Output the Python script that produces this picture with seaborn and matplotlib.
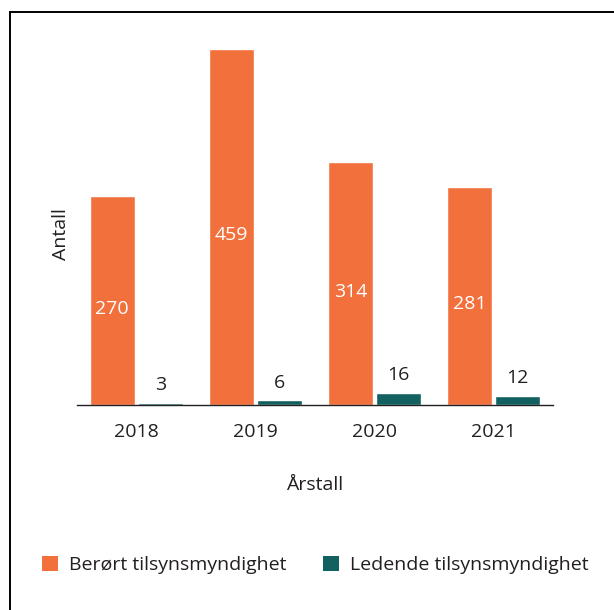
import matplotlib
matplotlib.use("Agg")
import matplotlib.pyplot as plt
import seaborn as sns
import pandas as pd
from matplotlib.patches import Rectangle, Patch

years = ["2018", "2019", "2020", "2021"]
berort = [270, 459, 314, 281]
ledende = [3, 6, 16, 12]
series_names = ["Berørt tilsynsmyndighet", "Ledende tilsynsmyndighet"]
colors = ["#F1703C", "#12605F"]

df = pd.DataFrame({
    "year": years * 2,
    "value": berort + ledende,
    "series": [series_names[0]] * 4 + [series_names[1]] * 4,
})

sns.set_theme(style="white")
plt.rcParams["font.family"] = ["Open Sans", "DejaVu Sans"]
text_color = "#231F20"
fs = 14

fig = plt.figure(figsize=(6.14, 6.10), dpi=100)
ax = fig.add_axes([77 / 614, 205 / 610, 476 / 614, 372 / 610])

sns.barplot(data=df, x="year", y="value", hue="series", palette=colors,
            width=0.815, gap=0.07, ax=ax, legend=False, saturation=1)

ax.set_ylim(0, 480)
ax.set_xlim(-0.5, 3.5)
for s in ["top", "right", "left"]:
    ax.spines[s].set_visible(False)
ax.spines["bottom"].set_color(text_color)
ax.spines["bottom"].set_linewidth(1.0)
ax.set_yticks([])
ax.tick_params(axis="x", length=0, pad=13, labelsize=fs, labelcolor=text_color)

ax.set_xlabel("Årstall", fontsize=fs, color=text_color, labelpad=25)
ax.set_ylabel("Antall", fontsize=fs, color=text_color)
ax.yaxis.set_label_coords(-0.014, 0.46)

# labels
containers = ax.containers
for bar, v in zip(containers[0], berort):
    ax.annotate(str(v), (bar.get_x() + bar.get_width() / 2, bar.get_height() / 2),
                xytext=(0, -6), textcoords="offset points",
                ha="center", va="center", color="white", fontsize=fs)
for bar, v in zip(containers[1], ledende):
    ax.annotate(str(v), (bar.get_x() + bar.get_width() / 2, bar.get_height()),
                xytext=(0, 6), textcoords="offset points",
                ha="center", va="bottom", color=text_color, fontsize=fs)

handles = [Patch(facecolor=c, edgecolor="none") for c in colors]
fig.legend(handles, series_names, loc="center left", bbox_to_anchor=(42 / 614, 1 - 565 / 610),
           ncol=2, frameon=False, fontsize=fs, handlelength=0.82, handleheight=0.78,
           handletextpad=0.57, columnspacing=1.9, borderpad=0, borderaxespad=0,
           labelcolor=text_color)

frame = Rectangle((10 / 614, -0.1), 1.2, 1 - 12 / 610 + 0.1, transform=fig.transFigure,
                  fill=False, edgecolor="black", linewidth=1.4, clip_on=False)
fig.patches.append(frame)

fig.savefig("out.png", dpi=100, facecolor="white")
